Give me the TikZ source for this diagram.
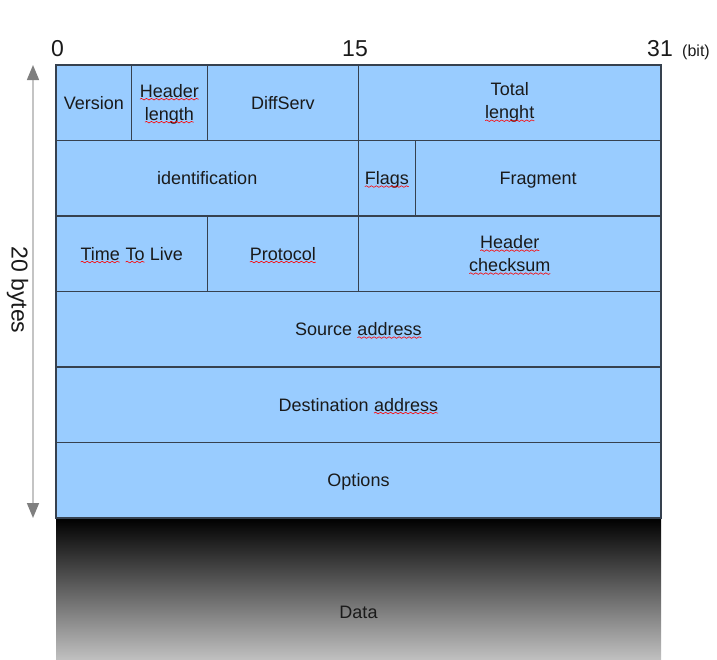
\documentclass[tikz,border=0pt]{standalone}
\usepackage{fontspec}
\setmainfont{Liberation Sans}
\usetikzlibrary{arrows.meta,decorations.pathmorphing}

\definecolor{cellblue}{HTML}{99CCFF}
\definecolor{cellline}{HTML}{36414F}
\definecolor{inkdark}{HTML}{1A1A1A}
\definecolor{arrowline}{HTML}{C4C4C4}
\definecolor{arrowhead}{HTML}{7F7F7F}

% word with a red spell-check wave under it
\newcommand{\spellmark}[1]{\tikz[baseline=(w.base)]{\node[inner sep=0pt,outer sep=0pt,minimum width=0pt,minimum height=0pt,draw=none,fill=none] (w) {#1};
  \draw[red,line width=0.6pt,decorate,decoration={snake,amplitude=0.8pt,segment length=5pt}] ([yshift=-1.8pt]w.base west) -- ([yshift=-1.8pt]w.base east);}}

\tikzset{
  field/.style={draw=cellline, fill=cellblue, line width=1.3pt, minimum height=75.5pt, inner sep=0pt, align=center, text=inkdark, font=\fontsize{18}{23}\selectfont},
  oneline/.style={text height=13pt, text depth=0pt},
  twoline/.style={execute at begin node={\rule{0pt}{16pt}}},
  bits/.style={minimum width=#1*18.906pt},
  bitnum/.style={anchor=base, font=\fontsize{23}{23}\selectfont, text=inkdark},
}

\begin{document}
\begin{tikzpicture}[x=1pt,y=-1pt]
\useasboundingbox (0,0) rectangle (717,659);
% bit scale
\node[bitnum] (b0) at (57.5,56) {0};
\node[bitnum] (b15) at (355,56) {15};
\node[bitnum] (b31) at (660,56) {31};
\node[anchor=base, font=\fontsize{16}{16}\selectfont, text=inkdark] (bit) at (696,56) {(bit)};
% payload
\shade[top color=black, bottom color=black!25] (56,518) rectangle (661,659);
\node[font=\fontsize{18}{18}\selectfont, text=inkdark] (data) at (358.5,612) {Data};
% header fields
\begin{scope}[shift={(56pt,-65pt)}, x=18.906pt, y=-75.5pt]
\node[field,oneline,bits=4] (ver) at (2,0.5) {Version};
\node[field,twoline,bits=4] (ihl) at (6,0.5) {\spellmark{Header}\\\spellmark{length}};
\node[field,oneline,bits=8] (dsf) at (12,0.5) {DiffServ};
\node[field,twoline,bits=16] (tlen) at (24,0.5) {Total\\\spellmark{lenght}};
\node[field,oneline,bits=16] (ident) at (8,1.5) {identification};
\node[field,oneline,bits=3] (flags) at (17.5,1.5) {\spellmark{Flags}};
\node[field,oneline,bits=13] (frag) at (25.5,1.5) {Fragment};
\node[field,oneline,bits=8] (ttl) at (4,2.5) {\spellmark{Time} \spellmark{To} Live};
\node[field,oneline,bits=8] (proto) at (12,2.5) {\spellmark{Protocol}};
\node[field,twoline,bits=16] (hcs) at (24,2.5) {\spellmark{Header}\\\spellmark{checksum}};
\node[field,oneline,bits=32] (src) at (16,3.5) {Source \spellmark{address}};
\node[field,oneline,bits=32] (dst) at (16,4.5) {Destination \spellmark{address}};
\node[field,oneline,bits=32] (opt) at (16,5.5) {Options};
\end{scope}
% length arrow
\coordinate (atop) at (33,65);
\coordinate (abot) at (33,518);
\draw[arrowline, line width=1.5pt, {Triangle[width=12pt,length=15pt,color=arrowhead]}-{Triangle[width=12pt,length=15pt,color=arrowhead]}] (atop) -- (abot);
\node[rotate=-90, font=\fontsize{23}{23}\selectfont, text=inkdark] (len) at (17.5,290) {20 bytes};
\end{tikzpicture}
\end{document}
